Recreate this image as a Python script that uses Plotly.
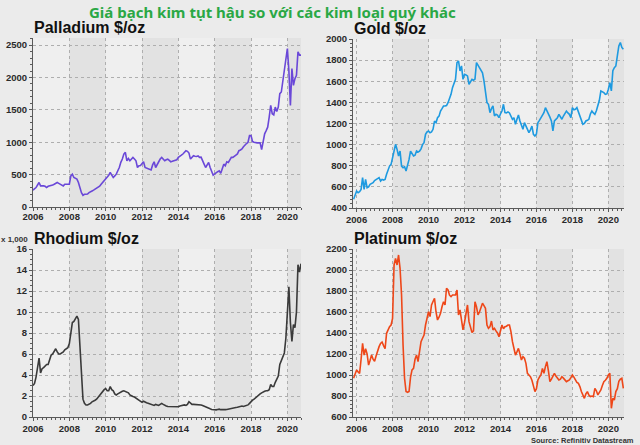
import plotly.graph_objects as go

W, H = 640, 445

MAIN_TITLE = "Giá bạch kim tụt hậu so với các kim loại quý khác"
SOURCE_TEXT = "Source: Refinitiv Datastream"
RHODIUM_UNIT = "x 1,000"

YEAR_TICKS = [2006, 2008, 2010, 2012, 2014, 2016, 2018, 2020]
SHADED_BAND_STARTS = [2008, 2012, 2016, 2020]

# Palladium, $/oz, monthly from Jan 2006
PALLADIUM_START = (2006, 1)
PALLADIUM = [
    260, 280, 300, 340, 378, 326, 330, 326, 320, 300, 320, 326,
    326, 340, 352, 370, 378, 365, 352, 340, 326, 352, 352, 352,
    352, 481, 507, 455, 440, 430, 378, 276, 220, 181, 196, 196,
    200, 222, 230, 248, 260, 276, 290, 300, 320, 352, 380, 404,
    420, 455, 490, 533, 481, 455, 480, 507, 560, 610, 690, 740,
    818, 844, 714, 750, 714, 740, 766, 740, 714, 610, 636, 640,
    662, 698, 610, 600, 584, 573, 573, 650, 698, 610, 660, 714,
    740, 766, 740, 714, 730, 740, 720, 698, 705, 710, 714, 730,
    766, 790, 800, 818, 840, 870, 860, 833, 740, 770, 792, 785,
    781, 790, 766, 770, 700, 662, 610, 640, 688, 610, 558, 491,
    510, 533, 545, 558, 522, 590, 662, 636, 698, 688, 720, 766,
    766, 792, 802, 820, 870, 880, 896, 930, 948, 980, 1000, 1103,
    1103, 1010, 1000, 990, 990, 990, 990, 885, 1000, 1130, 1180, 1233,
    1388, 1568, 1440, 1424, 1543, 1475, 1543, 1750, 1776, 1931, 2100, 2300,
    2448, 2100, 1568, 2137, 1879, 1982, 2034, 2396, 2345, 2345,
]

# Gold, $/oz, monthly from Nov 2005
GOLD_START = (2005, 11)
GOLD = [
    482, 520,
    561, 545, 555, 576, 687, 576, 671, 592, 600, 624, 630, 640,
    660, 671, 675, 687, 655, 671, 665, 671, 720, 766, 797, 813,
    870, 920, 1003, 955, 892, 939, 797, 781, 790, 750, 797, 860,
    939, 908, 892, 900, 939, 930, 939, 960, 1000, 1018, 1097, 1120,
    1129, 1113, 1120, 1145, 1223, 1208, 1255, 1270, 1318, 1340, 1365, 1365,
    1370, 1397, 1430, 1476, 1539, 1580, 1618, 1776, 1792, 1697, 1745, 1618,
    1666, 1660, 1650, 1571, 1600, 1618, 1610, 1620, 1776, 1750, 1729, 1697,
    1680, 1603, 1500, 1397, 1382, 1303, 1340, 1366, 1271, 1287, 1280, 1255,
    1290, 1318, 1382, 1303, 1300, 1310, 1300, 1260, 1240, 1255, 1192, 1240,
    1280, 1224, 1180, 1145, 1208, 1176, 1130, 1113, 1140, 1176, 1097, 1081,
    1100, 1208, 1230, 1255, 1280, 1303, 1350, 1320, 1303, 1260, 1224, 1129,
    1224, 1240, 1255, 1287, 1260, 1240, 1271, 1290, 1318, 1300, 1287, 1255,
    1350, 1330, 1334, 1350, 1310, 1271, 1240, 1192, 1200, 1224, 1230, 1240,
    1290, 1318, 1300, 1287, 1320, 1366, 1420, 1508, 1500, 1492, 1476, 1480,
    1524, 1587, 1508, 1700, 1729, 1745, 1840, 1934, 1966, 1920, 1903,
]

# Rhodium, thousand $/oz, monthly from Jan 2006
RHODIUM_START = (2006, 1)
RHODIUM = [
    3.0, 3.2, 3.8, 4.6, 5.6, 4.2, 4.6, 4.7, 4.9, 5.0, 5.0, 5.4,
    5.9, 6.0, 6.2, 6.5, 6.2, 6.0, 6.0, 6.1, 6.2, 6.4, 6.5, 6.6,
    7.0, 8.3, 9.0, 9.1, 9.4, 9.6, 9.3, 6.9, 3.8, 1.7, 1.3, 1.15,
    1.15, 1.2, 1.3, 1.45, 1.5, 1.6, 1.7, 1.9, 2.1, 2.2, 2.5, 2.6,
    2.7, 2.5, 2.5, 2.9, 2.6, 2.5, 2.2, 2.1, 2.2, 2.3, 2.4, 2.45,
    2.5, 2.45, 2.4, 2.3, 2.1, 2.0, 1.95, 1.9, 1.8, 1.7, 1.6, 1.45,
    1.4, 1.5, 1.4, 1.35, 1.3, 1.25, 1.15, 1.1, 1.1, 1.2, 1.15, 1.1,
    1.2, 1.3, 1.2, 1.1, 1.05, 1.0, 1.0, 1.0, 1.0, 0.98, 0.95, 0.95,
    0.98, 1.05, 1.1, 1.1, 1.15, 1.1, 1.2, 1.46, 1.3, 1.2, 1.2, 1.2,
    1.2, 1.2, 1.15, 1.15, 1.1, 1.05, 0.95, 0.9, 0.85, 0.78, 0.72, 0.7,
    0.68, 0.68, 0.72, 0.75, 0.7, 0.68, 0.68, 0.7, 0.72, 0.76, 0.78, 0.82,
    0.85, 0.89, 0.9, 0.92, 0.95, 1.0, 1.05, 1.0, 1.05, 1.05, 1.15, 1.3,
    1.5, 1.6, 1.7, 1.85, 2.0, 2.1, 2.2, 2.3, 2.4, 2.45, 2.5, 2.5,
    2.6, 3.1, 2.9, 2.9, 3.3, 3.6, 3.9, 5.0, 5.4, 5.8, 6.1, 7.5,
    10.0, 12.4, 9.0, 7.2, 8.8, 8.5, 10.0, 14.5, 13.8, 14.6,
]

# Platinum, $/oz, monthly from Nov 2005
PLATINUM_START = (2005, 11)
PLATINUM = [
    969, 1000,
    1048, 1030, 1016, 1150, 1302, 1190, 1250, 1200, 1095, 1140, 1190, 1150,
    1130, 1180, 1238, 1270, 1300, 1314, 1280, 1250, 1397, 1430, 1460, 1476,
    1540, 2048, 2111, 2048, 2143, 2016, 1762, 1286, 969, 842, 835, 842,
    980, 1048, 1063, 1150, 1190, 1127, 1222, 1317, 1350, 1381, 1476, 1540,
    1603, 1556, 1667, 1700, 1730, 1600, 1524, 1550, 1587, 1650, 1698, 1667,
    1826, 1810, 1760, 1746, 1762, 1762, 1762, 1810, 1572, 1620, 1520, 1429,
    1500, 1603, 1667, 1508, 1445, 1405, 1420, 1698, 1650, 1572, 1600, 1650,
    1683, 1660, 1635, 1476, 1445, 1460, 1514, 1429, 1445, 1420, 1400, 1365,
    1420, 1476, 1440, 1460, 1465, 1476, 1476, 1413, 1317, 1250, 1190, 1220,
    1254, 1200, 1143, 1175, 1160, 1111, 1016, 1000, 984, 950, 905, 842,
    870, 953, 980, 1000, 1063, 1016, 1080, 1127, 1040, 937, 960, 984,
    1016, 990, 969, 953, 960, 984, 970, 950, 937, 945, 953, 975,
    1000, 980, 953, 930, 921, 890, 842, 800, 778, 820, 842, 810,
    794, 800, 794, 873, 850, 810, 830, 857, 900, 937, 950, 969,
    1000, 1016, 683, 778, 762, 842, 870, 940, 960, 969, 873,
]


def month_axis(start, n):
    y, m = start
    return [y + (m - 1 + i) / 12.0 for i in range(n)]


FONT = "Liberation Sans, Arial, sans-serif"
PAGE_BG = "#ebebeb"
PLOT_BG = "#efefef"
BAND_BG = "#e2e2e2"
GRID = "#aeaeae"
AXIS = "#5a5a5a"
TICK_FONT = dict(family=FONT, size=9.5, color="#2a2a2a", weight="bold")

panels = [
    dict(name="Palladium $/oz", values=PALLADIUM, start=PALLADIUM_START, color="#6a48d8",
         box=(33, 301, 38, 207), xr=[2006.0, 2020.75], yr=[0, 2610], dtick=500, minor=100,
         xstandoff=-2),
    dict(name="Gold $/oz", values=GOLD, start=GOLD_START, color="#1e9ae0",
         box=(353, 624, 39, 208), xr=[2005.8, 2020.87], yr=[400, 2000], dtick=200, minor=40,
         xstandoff=0),
    dict(name="Rhodium $/oz", values=RHODIUM, start=RHODIUM_START, color="#3a3a3a",
         box=(33, 301, 249, 417), xr=[2006.0, 2020.75], yr=[0, 16], dtick=2, minor=0.5,
         xstandoff=0),
    dict(name="Platinum $/oz", values=PLATINUM, start=PLATINUM_START, color="#ee4719",
         box=(353, 624, 249, 417), xr=[2005.8, 2020.87], yr=[600, 2200], dtick=200, minor=40,
         xstandoff=0),
]

fig = go.Figure()
layout = {}
shapes = []
annotations = []

for i, p in enumerate(panels, start=1):
    sfx = "" if i == 1 else str(i)
    xa, ya = "x" + sfx, "y" + sfx
    l, r, t, b = p["box"]
    fig.add_trace(go.Scatter(
        x=month_axis(p["start"], len(p["values"])), y=p["values"],
        mode="lines", line=dict(color=p["color"], width=1.6),
        xaxis=xa, yaxis=ya, showlegend=False, hoverinfo="skip",
    ))
    layout["xaxis" + sfx] = dict(
        domain=[l / W, r / W], range=p["xr"], anchor=ya,
        tickmode="array", tickvals=YEAR_TICKS, ticktext=[str(v) for v in YEAR_TICKS],
        showgrid=True, gridcolor=GRID, griddash="dot", gridwidth=1,
        showline=True, linecolor=AXIS, linewidth=1,
        ticks="outside", ticklen=3, tickcolor=AXIS, ticklabelstandoff=p["xstandoff"],
        minor=dict(dtick=0.25, tick0=2006, ticks="outside", ticklen=2, tickcolor=AXIS, showgrid=False),
        tickfont=TICK_FONT, zeroline=False, fixedrange=True, automargin=False,
    )
    layout["yaxis" + sfx] = dict(
        domain=[1 - b / H, 1 - t / H], range=p["yr"], anchor=xa,
        tickmode="linear", tick0=p["yr"][0], dtick=p["dtick"],
        showgrid=True, gridcolor=GRID, griddash="dot", gridwidth=1,
        showline=True, linecolor=AXIS, linewidth=1,
        ticks="outside", ticklen=3, tickcolor=AXIS,
        minor=dict(dtick=p["minor"], ticks="outside", ticklen=2, tickcolor=AXIS, showgrid=False),
        tickfont=TICK_FONT, zeroline=False, fixedrange=True, automargin=False,
    )
    for s in SHADED_BAND_STARTS:
        shapes.append(dict(
            type="rect", xref=xa, yref=ya + " domain",
            x0=s, x1=min(s + 2, p["xr"][1]), y0=0, y1=1,
            fillcolor=BAND_BG, line=dict(width=0), layer="below",
        ))
    annotations.append(dict(
        text="<b>" + p["name"] + "</b>", xref="paper", yref="paper",
        x=(l - 1) / W, y=1 - (t - 10.5) / H, xanchor="left", yanchor="middle",
        showarrow=False, font=dict(family=FONT, size=16, color="#111111"),
    ))

annotations.append(dict(
    text="<b>" + MAIN_TITLE + "</b>", xref="paper", yref="paper",
    x=272 / W, y=1 - 12.5 / H, xanchor="center", yanchor="middle", showarrow=False,
    font=dict(family="Noto Sans, sans-serif", size=15, color="#2aa845"),
))
annotations.append(dict(
    text="<b>" + RHODIUM_UNIT + "</b>", xref="paper", yref="paper",
    x=30 / W, y=1 - 239 / H, xanchor="right", yanchor="middle", showarrow=False,
    font=dict(family=FONT, size=8, color="#333333"),
))
annotations.append(dict(
    text="<b>" + SOURCE_TEXT + "</b>", xref="paper", yref="paper",
    x=636 / W, y=1 - 440 / H, xanchor="right", yanchor="middle", showarrow=False,
    font=dict(family=FONT, size=7.5, color="#333333"),
))

fig.update_layout(
    width=W, height=H, margin=dict(l=0, r=0, t=0, b=0, autoexpand=False),
    paper_bgcolor=PAGE_BG, plot_bgcolor=PLOT_BG,
    shapes=shapes, annotations=annotations, showlegend=False,
    **layout,
)

fig.write_html(
    "out.html", include_plotlyjs=True, config={"displayModeBar": False},
    post_script="document.body.style.margin='0';document.body.style.overflow='hidden';",
)
